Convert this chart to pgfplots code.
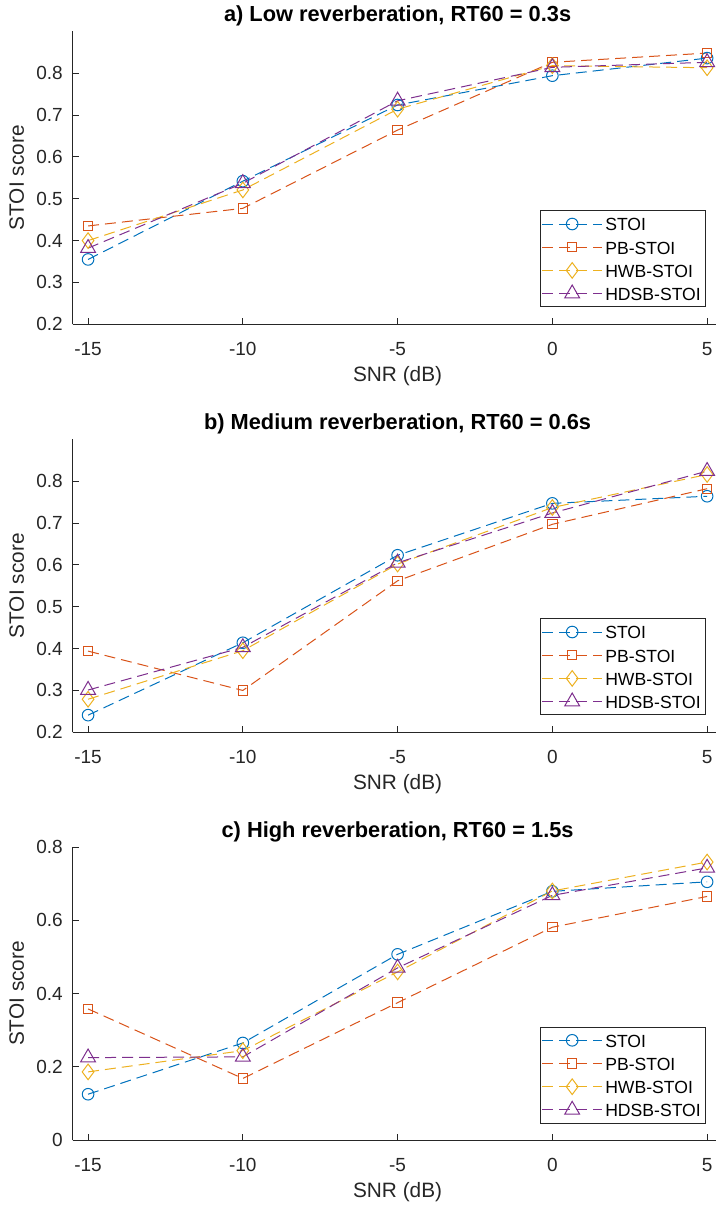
\documentclass[border=0pt]{standalone}
\usepackage{fontspec}
\setmainfont{Liberation Sans}
\usepackage{pgfplots}
\pgfplotsset{compat=1.18}
\definecolor{c1}{rgb}{0,0.447,0.741}
\definecolor{c2}{rgb}{0.85,0.325,0.098}
\definecolor{c3}{rgb}{0.929,0.694,0.125}
\definecolor{c4}{rgb}{0.494,0.184,0.556}
\definecolor{axc}{rgb}{0.15,0.15,0.15}
\pgfplotsset{
  mstyle/.style={
    scale only axis, width=325pt, height=146.5pt,
    xmin=-15.5, xmax=5.5,
    axis lines*=left,
    axis line style={axc, line width=0.5pt, -},
    tick align=inside, major tick length=3pt,
    tick style={axc, line width=0.5pt},
    xtick={-15,-10,-5,0,5}, xticklabels={-15,-10,-5,0,5},
    ticklabel style={font=\fontsize{9.5}{11}\selectfont, text=axc},
    xticklabel style={anchor=base, yshift=-15.5pt},
    yticklabel style={anchor=east, inner sep=0pt, xshift=-4.7pt},
    xlabel={SNR (dB)}, ylabel={STOI score},
    label style={font=\fontsize{10.4}{12}\selectfont, text=axc},
    xlabel style={at={(axis description cs:0.5,0)}, anchor=base, yshift=-28.6pt},
    ylabel style={at={(axis description cs:-0.086,0.5)}, anchor=center},
    every axis title shift=0pt,
    title style={at={(axis description cs:0.5,1)}, anchor=base, yshift=5pt,
      font=\bfseries\fontsize{10.9}{12}\selectfont, text=black},
    legend cell align=left,
    legend style={at={(axis description cs:0.974,0.058)}, anchor=south east,
      draw=axc, line width=0.5pt, inner sep=0.8pt, row sep=0pt,
      font=\fontsize{8.8}{10}\selectfont, text=black,
      nodes={inner xsep=1.4pt, inner ysep=2.4pt, text height=6.8pt, text depth=0pt}},
    legend image code/.code={\draw[mark repeat=2,mark phase=2,#1] plot coordinates {(0pt,0pt) (14.9pt,0pt) (29.8pt,0pt)};},
  },
  sa/.style={c1, line width=0.5pt, dash pattern=on 5.5pt off 3pt, mark=o, mark size=2.9pt, mark options={solid, line width=0.5pt}},
  sb/.style={c2, line width=0.5pt, dash pattern=on 5.5pt off 3pt, mark=square, mark size=2.35pt, mark options={solid, line width=0.5pt}},
  sc/.style={c3, line width=0.5pt, dash pattern=on 5.5pt off 3pt, mark=diamond, mark size=3.9pt, mark options={solid, line width=0.5pt}},
  sd/.style={c4, line width=0.5pt, dash pattern=on 5.5pt off 3pt, mark=triangle, mark size=4.3pt, mark options={solid, line width=0.5pt}},
}
\begin{document}
\begin{tikzpicture}
\useasboundingbox (0,0) rectangle (358pt,-603pt);
% Panel a
\begin{axis}[mstyle, at={(36.3pt,-162.15pt)}, anchor=south west,
  ymin=0.2, ymax=0.9,
  ytick={0.2,0.3,0.4,0.5,0.6,0.7,0.8}, yticklabels={0.2,0.3,0.4,0.5,0.6,0.7,0.8},
  title={a) Low reverberation, RT60 = 0.3s}]
\addplot[sa] coordinates {(-15,0.355) (-10,0.542) (-5,0.724) (0,0.794) (5,0.836)};
\addplot[sb] coordinates {(-15,0.435) (-10,0.477) (-5,0.664) (0,0.826) (5,0.848)};
\addplot[sc] coordinates {(-15,0.400) (-10,0.521) (-5,0.714) (0,0.818) (5,0.813)};
\addplot[sd] coordinates {(-15,0.382) (-10,0.537) (-5,0.734) (0,0.814) (5,0.826)};
\legend{STOI,PB-STOI,HWB-STOI,HDSB-STOI}
\end{axis}
% Panel b
\begin{axis}[mstyle, at={(36.3pt,-366.15pt)}, anchor=south west,
  ymin=0.2, ymax=0.9,
  ytick={0.2,0.3,0.4,0.5,0.6,0.7,0.8}, yticklabels={0.2,0.3,0.4,0.5,0.6,0.7,0.8},
  title={b) Medium reverberation, RT60 = 0.6s}]
\addplot[sa] coordinates {(-15,0.241) (-10,0.414) (-5,0.623) (0,0.747) (5,0.764)};
\addplot[sb] coordinates {(-15,0.394) (-10,0.300) (-5,0.562) (0,0.697) (5,0.782)};
\addplot[sc] coordinates {(-15,0.279) (-10,0.395) (-5,0.602) (0,0.737) (5,0.816)};
\addplot[sd] coordinates {(-15,0.301) (-10,0.403) (-5,0.605) (0,0.724) (5,0.824)};
\legend{STOI,PB-STOI,HWB-STOI,HDSB-STOI}
\end{axis}
% Panel c
\begin{axis}[mstyle, at={(36.3pt,-570pt)}, anchor=south west,
  ymin=0, ymax=0.8,
  ytick={0,0.2,0.4,0.6,0.8}, yticklabels={0,0.2,0.4,0.6,0.8},
  legend style={at={(axis description cs:0.974,0.056)}},
  title={c) High reverberation, RT60 = 1.5s}]
\addplot[sa] coordinates {(-15,0.125) (-10,0.265) (-5,0.507) (0,0.679) (5,0.705)};
\addplot[sb] coordinates {(-15,0.358) (-10,0.168) (-5,0.375) (0,0.581) (5,0.665)};
\addplot[sc] coordinates {(-15,0.186) (-10,0.244) (-5,0.459) (0,0.680) (5,0.759)};
\addplot[sd] coordinates {(-15,0.225) (-10,0.227) (-5,0.470) (0,0.668) (5,0.743)};
\legend{STOI,PB-STOI,HWB-STOI,HDSB-STOI}
\end{axis}
\end{tikzpicture}
\end{document}
